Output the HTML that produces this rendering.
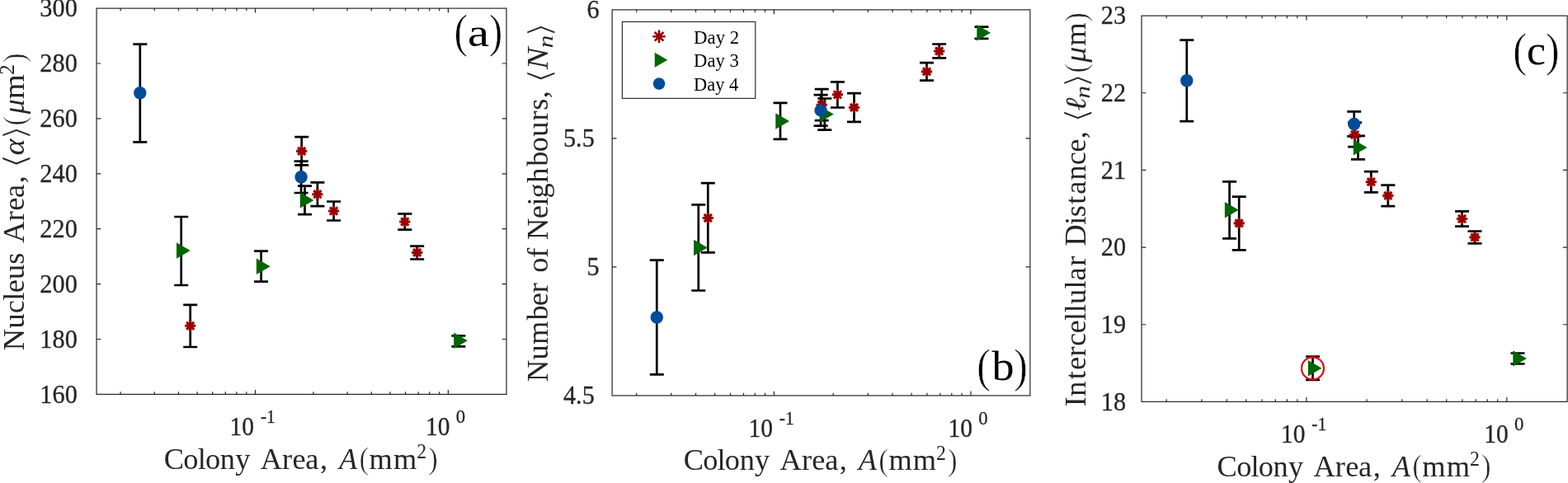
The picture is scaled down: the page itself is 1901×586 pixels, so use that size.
<!DOCTYPE html>
<html lang="en"><head><meta charset="utf-8"><title>Colony area plots</title>
<style>
html,body{margin:0;padding:0;background:#fff;}
body{width:1901px;height:586px;overflow:hidden;}
svg{display:block;font-family:'Liberation Serif','DejaVu Serif',serif;}
</style></head><body>
<svg width="1901" height="586" viewBox="0 0 1901 586">
<rect width="1901" height="586" fill="#fff"/>
<rect x="117.05" y="10.10" width="496.95" height="468.30" fill="none" stroke="#262626" stroke-width="1.2"/>
<path d="M146.07 478.40v-3.2M146.07 10.10v3.2M187.25 478.40v-3.2M187.25 10.10v3.2M216.47 478.40v-3.2M216.47 10.10v3.2M239.13 478.40v-3.2M239.13 10.10v3.2M257.65 478.40v-3.2M257.65 10.10v3.2M273.31 478.40v-3.2M273.31 10.10v3.2M286.87 478.40v-3.2M286.87 10.10v3.2M298.83 478.40v-3.2M298.83 10.10v3.2M309.53 478.40v-5.3M309.53 10.10v5.3M379.93 478.40v-3.2M379.93 10.10v3.2M421.12 478.40v-3.2M421.12 10.10v3.2M450.33 478.40v-3.2M450.33 10.10v3.2M473.00 478.40v-3.2M473.00 10.10v3.2M491.52 478.40v-3.2M491.52 10.10v3.2M507.17 478.40v-3.2M507.17 10.10v3.2M520.74 478.40v-3.2M520.74 10.10v3.2M532.70 478.40v-3.2M532.70 10.10v3.2M543.40 478.40v-5.3M543.40 10.10v5.3M117.05 411.50h5.3M614.00 411.50h-5.3M117.05 344.60h5.3M614.00 344.60h-5.3M117.05 277.70h5.3M614.00 277.70h-5.3M117.05 210.80h5.3M614.00 210.80h-5.3M117.05 143.90h5.3M614.00 143.90h-5.3M117.05 77.00h5.3M614.00 77.00h-5.3" fill="none" stroke="#262626" stroke-width="1.2"/>
<path d="M230.70 369.80V421.00M222.20 369.80h17.0M222.20 421.00h17.0" fill="none" stroke="#000" stroke-width="2.7"/>
<path d="M365.70 166.10V200.30M357.20 166.10h17.0M357.20 200.30h17.0" fill="none" stroke="#000" stroke-width="2.7"/>
<path d="M384.90 221.30V250.20M376.40 221.30h17.0M376.40 250.20h17.0" fill="none" stroke="#000" stroke-width="2.7"/>
<path d="M404.60 244.50V267.50M396.10 244.50h17.0M396.10 267.50h17.0" fill="none" stroke="#000" stroke-width="2.7"/>
<path d="M490.80 259.30V278.60M482.30 259.30h17.0M482.30 278.60h17.0" fill="none" stroke="#000" stroke-width="2.7"/>
<path d="M505.70 298.70V314.50M497.20 298.70h17.0M497.20 314.50h17.0" fill="none" stroke="#000" stroke-width="2.7"/>
<path d="M219.70 263.00V346.00M211.20 263.00h17.0M211.20 346.00h17.0" fill="none" stroke="#000" stroke-width="2.7"/>
<path d="M316.60 304.70V341.70M308.10 304.70h17.0M308.10 341.70h17.0" fill="none" stroke="#000" stroke-width="2.7"/>
<path d="M369.50 225.70V260.10M361.00 225.70h17.0M361.00 260.10h17.0" fill="none" stroke="#000" stroke-width="2.7"/>
<path d="M555.90 407.30V420.30M547.40 407.30h17.0M547.40 420.30h17.0" fill="none" stroke="#000" stroke-width="2.7"/>
<path d="M169.80 53.60V172.40M161.30 53.60h17.0M161.30 172.40h17.0" fill="none" stroke="#000" stroke-width="2.7"/>
<path d="M365.10 195.60V234.00M356.60 195.60h17.0M356.60 234.00h17.0" fill="none" stroke="#000" stroke-width="2.7"/>
<path d="M224.10 395.30L237.30 395.30M226.13 390.73L235.27 399.87M230.70 388.70L230.70 401.90M235.27 390.73L226.13 399.87" fill="none" stroke="#990000" stroke-width="3.1"/>
<path d="M359.10 183.40L372.30 183.40M361.13 178.83L370.27 187.97M365.70 176.80L365.70 190.00M370.27 178.83L361.13 187.97" fill="none" stroke="#990000" stroke-width="3.1"/>
<path d="M378.30 235.70L391.50 235.70M380.33 231.13L389.47 240.27M384.90 229.10L384.90 242.30M389.47 231.13L380.33 240.27" fill="none" stroke="#990000" stroke-width="3.1"/>
<path d="M398.00 256.00L411.20 256.00M400.03 251.43L409.17 260.57M404.60 249.40L404.60 262.60M409.17 251.43L400.03 260.57" fill="none" stroke="#990000" stroke-width="3.1"/>
<path d="M484.20 269.00L497.40 269.00M486.23 264.43L495.37 273.57M490.80 262.40L490.80 275.60M495.37 264.43L486.23 273.57" fill="none" stroke="#990000" stroke-width="3.1"/>
<path d="M499.10 306.40L512.30 306.40M501.13 301.83L510.27 310.97M505.70 299.80L505.70 313.00M510.27 301.83L501.13 310.97" fill="none" stroke="#990000" stroke-width="3.1"/>
<path d="M214.00 294.30L230.70 304.00L214.00 313.70Z" fill="#006600"/>
<path d="M310.90 313.50L327.60 323.20L310.90 332.90Z" fill="#006600"/>
<path d="M363.80 233.20L380.50 242.90L363.80 252.60Z" fill="#006600"/>
<path d="M550.20 403.60L566.90 413.30L550.20 423.00Z" fill="#006600"/>
<circle cx="169.80" cy="112.80" r="7.7" fill="#004c99"/>
<circle cx="365.10" cy="214.80" r="7.7" fill="#004c99"/>
<text transform="translate(48.36 488.60) scale(0.9774 1.0000)" font-size="31.0" stroke="#262626" stroke-width="0.307" fill="#262626">160</text>
<text transform="translate(48.36 421.70) scale(0.9774 1.0000)" font-size="31.0" stroke="#262626" stroke-width="0.307" fill="#262626">180</text>
<text transform="translate(48.36 354.80) scale(0.9774 1.0000)" font-size="31.0" stroke="#262626" stroke-width="0.307" fill="#262626">200</text>
<text transform="translate(48.36 287.90) scale(0.9774 1.0000)" font-size="31.0" stroke="#262626" stroke-width="0.307" fill="#262626">220</text>
<text transform="translate(48.36 221.00) scale(0.9774 1.0000)" font-size="31.0" stroke="#262626" stroke-width="0.307" fill="#262626">240</text>
<text transform="translate(48.36 154.10) scale(0.9774 1.0000)" font-size="31.0" stroke="#262626" stroke-width="0.307" fill="#262626">260</text>
<text transform="translate(48.36 87.20) scale(0.9774 1.0000)" font-size="31.0" stroke="#262626" stroke-width="0.307" fill="#262626">280</text>
<text transform="translate(48.36 20.30) scale(0.9774 1.0000)" font-size="31.0" stroke="#262626" stroke-width="0.307" fill="#262626">300</text>
<text transform="translate(278.55 528.20) scale(0.9512 1.0000)" font-size="31.0" stroke="#262626" stroke-width="0.315" fill="#262626">10</text>
<text transform="translate(315.92 513.30) scale(0.9025 1.0000)" font-size="23.9" stroke="#262626" stroke-width="0.277" fill="#262626">-1</text>
<text transform="translate(515.92 528.20) scale(0.9512 1.0000)" font-size="31.0" stroke="#262626" stroke-width="0.315" fill="#262626">10</text>
<text transform="translate(552.64 513.30) scale(0.9538 1.0000)" font-size="23.9" stroke="#262626" stroke-width="0.262" fill="#262626">0</text>
<text transform="translate(200.20 568.50) scale(1.0400 1.0000)" x="-1.40 21.31 37.96 46.82 64.00 81.72" y="0" font-size="35" fill="#262626">Colony</text>
<text transform="translate(316.00 568.50) scale(1.0400 1.0000)" x="-0.35 25.06 36.97 52.22 69.21" y="0" font-size="35" fill="#262626">Area,</text>
<text transform="translate(411.16 568.50) scale(1.0192 1.0000)" font-size="35" font-style="italic" fill="#262626">A</text>
<text transform="translate(435.44 569.30) scale(0.9206 1.0000)" font-size="38.6" stroke="#fff" stroke-width="0.652" fill="#262626">(</text>
<text transform="translate(448.20 568.50) scale(1.0400 1.0000)" x="-0.70 27.64" y="0" font-size="35" fill="#262626">mm</text>
<text transform="translate(505.19 556.30) scale(0.9684 1.0000)" font-size="24.5" fill="#262626">2</text>
<text transform="translate(518.94 569.30) scale(0.9256 1.0000)" font-size="38.6" stroke="#fff" stroke-width="0.648" fill="#262626">)</text>
<text transform="translate(29.00 424.20) rotate(-90) scale(1.0400 1.0000)" x="-0.96 24.79 42.19 57.21 66.19 82.01 99.59" y="0" font-size="35" fill="#262626">Nucleus</text>
<text transform="translate(29.00 294.30) rotate(-90) scale(1.0400 1.0000)" x="-0.35 25.06 36.97 52.22 69.21" y="0" font-size="35" fill="#262626">Area,</text>
<text transform="translate(32.45 205.01) rotate(-90) scale(1.2786 1.0000)" font-size="38.75" font-family="'DejaVu Sans',serif" stroke="#fff" stroke-width="1.330" fill="#262626">⟨</text>
<text transform="translate(29.00 188.45) rotate(-90) scale(1.0927 1.0000)" font-size="35" font-style="italic" fill="#262626">α</text>
<text transform="translate(32.45 169.90) rotate(-90) scale(1.2082 1.0000)" font-size="38.75" font-family="'DejaVu Sans',serif" stroke="#fff" stroke-width="1.407" fill="#262626">⟩</text>
<text transform="translate(29.80 152.39) rotate(-90) scale(0.9055 1.0000)" font-size="38.6" stroke="#fff" stroke-width="0.663" fill="#262626">(</text>
<text transform="translate(29.00 138.30) rotate(-90) scale(1.0213 1.0000)" font-size="35" font-style="italic" fill="#262626">μ</text>
<text transform="translate(29.00 120.27) rotate(-90) scale(1.1044 1.0000)" font-size="35" fill="#262626">m</text>
<text transform="translate(16.80 90.67) rotate(-90) scale(1.0242 1.0000)" font-size="24.5" fill="#262626">2</text>
<text transform="translate(29.80 76.16) rotate(-90) scale(0.9256 1.0000)" font-size="38.6" stroke="#fff" stroke-width="0.648" fill="#262626">)</text>
<text transform="translate(550.49 57.10) scale(0.8645 1.0000)" font-size="57.5" stroke="#fff" stroke-width="0.694" fill="#000">(</text>
<text transform="translate(566.94 55.60) scale(1.2110 1.0000)" font-size="48.5" fill="#000">a</text>
<text transform="translate(592.78 57.10) scale(0.8645 1.0000)" font-size="57.5" stroke="#fff" stroke-width="0.694" fill="#000">)</text>
<rect x="742.15" y="11.85" width="506.75" height="468.10" fill="none" stroke="#262626" stroke-width="1.2"/>
<path d="M771.75 479.95v-3.2M771.75 11.85v3.2M813.74 479.95v-3.2M813.74 11.85v3.2M843.53 479.95v-3.2M843.53 11.85v3.2M866.64 479.95v-3.2M866.64 11.85v3.2M885.53 479.95v-3.2M885.53 11.85v3.2M901.49 479.95v-3.2M901.49 11.85v3.2M915.32 479.95v-3.2M915.32 11.85v3.2M927.52 479.95v-3.2M927.52 11.85v3.2M938.43 479.95v-5.3M938.43 11.85v5.3M1010.22 479.95v-3.2M1010.22 11.85v3.2M1052.22 479.95v-3.2M1052.22 11.85v3.2M1082.01 479.95v-3.2M1082.01 11.85v3.2M1105.12 479.95v-3.2M1105.12 11.85v3.2M1124.01 479.95v-3.2M1124.01 11.85v3.2M1139.97 479.95v-3.2M1139.97 11.85v3.2M1153.80 479.95v-3.2M1153.80 11.85v3.2M1166.00 479.95v-3.2M1166.00 11.85v3.2M1176.91 479.95v-5.3M1176.91 11.85v5.3M742.15 323.92h5.3M1248.90 323.92h-5.3M742.15 167.88h5.3M1248.90 167.88h-5.3" fill="none" stroke="#262626" stroke-width="1.2"/>
<path d="M858.30 222.20V306.40M849.80 222.20h17.0M849.80 306.40h17.0" fill="none" stroke="#000" stroke-width="2.7"/>
<path d="M996.20 108.10V146.10M987.70 108.10h17.0M987.70 146.10h17.0" fill="none" stroke="#000" stroke-width="2.7"/>
<path d="M1015.40 99.40V130.50M1006.90 99.40h17.0M1006.90 130.50h17.0" fill="none" stroke="#000" stroke-width="2.7"/>
<path d="M1035.50 113.20V147.80M1027.00 113.20h17.0M1027.00 147.80h17.0" fill="none" stroke="#000" stroke-width="2.7"/>
<path d="M1123.50 76.10V97.70M1115.00 76.10h17.0M1115.00 97.70h17.0" fill="none" stroke="#000" stroke-width="2.7"/>
<path d="M1138.70 53.50V70.40M1130.20 53.50h17.0M1130.20 70.40h17.0" fill="none" stroke="#000" stroke-width="2.7"/>
<path d="M846.80 248.30V352.50M838.30 248.30h17.0M838.30 352.50h17.0" fill="none" stroke="#000" stroke-width="2.7"/>
<path d="M946.00 124.90V168.90M937.50 124.90h17.0M937.50 168.90h17.0" fill="none" stroke="#000" stroke-width="2.7"/>
<path d="M999.80 119.50V157.70M991.30 119.50h17.0M991.30 157.70h17.0" fill="none" stroke="#000" stroke-width="2.7"/>
<path d="M1190.00 32.60V46.80M1181.50 32.60h17.0M1181.50 46.80h17.0" fill="none" stroke="#000" stroke-width="2.7"/>
<path d="M796.30 315.70V454.40M787.80 315.70h17.0M787.80 454.40h17.0" fill="none" stroke="#000" stroke-width="2.7"/>
<path d="M995.10 115.10V152.70M986.60 115.10h17.0M986.60 152.70h17.0" fill="none" stroke="#000" stroke-width="2.7"/>
<path d="M851.70 264.50L864.90 264.50M853.73 259.93L862.87 269.07M858.30 257.90L858.30 271.10M862.87 259.93L853.73 269.07" fill="none" stroke="#990000" stroke-width="3.1"/>
<path d="M989.60 127.20L1002.80 127.20M991.63 122.63L1000.77 131.77M996.20 120.60L996.20 133.80M1000.77 122.63L991.63 131.77" fill="none" stroke="#990000" stroke-width="3.1"/>
<path d="M1008.80 114.80L1022.00 114.80M1010.83 110.23L1019.97 119.37M1015.40 108.20L1015.40 121.40M1019.97 110.23L1010.83 119.37" fill="none" stroke="#990000" stroke-width="3.1"/>
<path d="M1028.90 130.40L1042.10 130.40M1030.93 125.83L1040.07 134.97M1035.50 123.80L1035.50 137.00M1040.07 125.83L1030.93 134.97" fill="none" stroke="#990000" stroke-width="3.1"/>
<path d="M1116.90 86.90L1130.10 86.90M1118.93 82.33L1128.07 91.47M1123.50 80.30L1123.50 93.50M1128.07 82.33L1118.93 91.47" fill="none" stroke="#990000" stroke-width="3.1"/>
<path d="M1132.10 62.00L1145.30 62.00M1134.13 57.43L1143.27 66.57M1138.70 55.40L1138.70 68.60M1143.27 57.43L1134.13 66.57" fill="none" stroke="#990000" stroke-width="3.1"/>
<path d="M841.10 290.80L857.80 300.50L841.10 310.20Z" fill="#006600"/>
<path d="M940.30 137.30L957.00 147.00L940.30 156.70Z" fill="#006600"/>
<path d="M994.10 128.90L1010.80 138.60L994.10 148.30Z" fill="#006600"/>
<path d="M1184.30 30.00L1201.00 39.70L1184.30 49.40Z" fill="#006600"/>
<circle cx="796.30" cy="385.00" r="7.7" fill="#004c99"/>
<circle cx="995.10" cy="133.90" r="7.7" fill="#004c99"/>
<text transform="translate(682.98 490.15) scale(0.9774 1.0000)" font-size="31.0" stroke="#262626" stroke-width="0.307" fill="#262626">4.5</text>
<text transform="translate(711.52 334.12) scale(0.9774 1.0000)" font-size="31.0" stroke="#262626" stroke-width="0.307" fill="#262626">5</text>
<text transform="translate(682.98 178.08) scale(0.9774 1.0000)" font-size="31.0" stroke="#262626" stroke-width="0.307" fill="#262626">5.5</text>
<text transform="translate(711.52 22.05) scale(0.9774 1.0000)" font-size="31.0" stroke="#262626" stroke-width="0.307" fill="#262626">6</text>
<text transform="translate(907.45 529.75) scale(0.9512 1.0000)" font-size="31.0" stroke="#262626" stroke-width="0.315" fill="#262626">10</text>
<text transform="translate(944.82 514.85) scale(0.9025 1.0000)" font-size="23.9" stroke="#262626" stroke-width="0.277" fill="#262626">-1</text>
<text transform="translate(1149.43 529.75) scale(0.9512 1.0000)" font-size="31.0" stroke="#262626" stroke-width="0.315" fill="#262626">10</text>
<text transform="translate(1186.16 514.85) scale(0.9538 1.0000)" font-size="23.9" stroke="#262626" stroke-width="0.262" fill="#262626">0</text>
<text transform="translate(830.10 570.05) scale(1.0400 1.0000)" x="-1.40 21.31 37.96 46.82 64.00 81.72" y="0" font-size="35" fill="#262626">Colony</text>
<text transform="translate(945.90 570.05) scale(1.0400 1.0000)" x="-0.35 25.06 36.97 52.22 69.21" y="0" font-size="35" fill="#262626">Area,</text>
<text transform="translate(1041.06 570.05) scale(1.0192 1.0000)" font-size="35" font-style="italic" fill="#262626">A</text>
<text transform="translate(1065.34 570.85) scale(0.9206 1.0000)" font-size="38.6" stroke="#fff" stroke-width="0.652" fill="#262626">(</text>
<text transform="translate(1078.10 570.05) scale(1.0400 1.0000)" x="-0.70 27.64" y="0" font-size="35" fill="#262626">mm</text>
<text transform="translate(1135.09 557.85) scale(0.9684 1.0000)" font-size="24.5" fill="#262626">2</text>
<text transform="translate(1148.84 570.85) scale(0.9256 1.0000)" font-size="38.6" stroke="#fff" stroke-width="0.648" fill="#262626">)</text>
<text transform="translate(664.40 462.10) rotate(-90) scale(1.0400 1.0000)" x="-0.96 24.53 42.29 70.67 87.30 102.86" y="0" font-size="35" fill="#262626">Number</text>
<text transform="translate(664.40 329.50) rotate(-90) scale(1.0400 1.0000)" x="-1.31 16.05" y="0" font-size="35" fill="#262626">of</text>
<text transform="translate(664.40 289.90) rotate(-90) scale(1.0400 1.0000)" x="-0.96 23.81 38.83 47.55 65.59 84.73 101.68 119.37 137.79 150.07 164.21" y="0" font-size="35" fill="#262626">Neighbours,</text>
<text transform="translate(667.85 101.59) rotate(-90) scale(1.2434 1.0000)" font-size="38.75" font-family="'DejaVu Sans',serif" stroke="#fff" stroke-width="1.367" fill="#262626">⟨</text>
<text transform="translate(664.40 84.20) rotate(-90) scale(1.1468 1.0000)" font-size="35" font-style="italic" fill="#262626">N</text>
<text transform="translate(670.00 58.42) rotate(-90) scale(1.2781 1.0000)" font-size="25" font-style="italic" fill="#262626">n</text>
<text transform="translate(667.85 45.54) rotate(-90) scale(1.2551 1.0000)" font-size="38.75" font-family="'DejaVu Sans',serif" stroke="#fff" stroke-width="1.354" fill="#262626">⟩</text>
<text transform="translate(1184.29 462.60) scale(0.8645 1.0000)" font-size="57.5" stroke="#fff" stroke-width="0.694" fill="#000">(</text>
<text transform="translate(1202.50 460.80) scale(1.0811 1.0000)" font-size="50" fill="#000">b</text>
<text transform="translate(1229.18 462.60) scale(0.8645 1.0000)" font-size="57.5" stroke="#fff" stroke-width="0.694" fill="#000">)</text>
<rect x="754.4" y="26.45" width="161.4" height="92.9" fill="#fff" stroke="#262626" stroke-width="1.15"/>
<path d="M791.35 44.30L806.75 44.30M793.71 38.96L804.39 49.64M799.05 36.60L799.05 52.00M804.39 38.96L793.71 49.64" fill="none" stroke="#990000" stroke-width="2.6"/>
<text transform="translate(841.07 53.05) scale(1.0247 1.0000)" font-size="22.3" fill="#000">Day 2</text>
<path d="M793.75 63.83L809.28 72.85L793.75 81.87Z" fill="#006600"/>
<text transform="translate(841.08 80.85) scale(1.0182 1.0000)" font-size="22.3" fill="#000">Day 3</text>
<circle cx="799.05" cy="101.60" r="7.3" fill="#004c99"/>
<text transform="translate(841.08 109.75) scale(1.0074 1.0000)" font-size="22.3" fill="#000">Day 4</text>
<rect x="1384.05" y="19.10" width="516.05" height="468.30" fill="none" stroke="#262626" stroke-width="1.2"/>
<path d="M1414.19 487.40v-3.2M1414.19 19.10v3.2M1456.96 487.40v-3.2M1456.96 19.10v3.2M1487.30 487.40v-3.2M1487.30 19.10v3.2M1510.83 487.40v-3.2M1510.83 19.10v3.2M1530.06 487.40v-3.2M1530.06 19.10v3.2M1546.32 487.40v-3.2M1546.32 19.10v3.2M1560.40 487.40v-3.2M1560.40 19.10v3.2M1572.83 487.40v-3.2M1572.83 19.10v3.2M1583.94 487.40v-5.3M1583.94 19.10v5.3M1657.05 487.40v-3.2M1657.05 19.10v3.2M1699.81 487.40v-3.2M1699.81 19.10v3.2M1730.15 487.40v-3.2M1730.15 19.10v3.2M1753.69 487.40v-3.2M1753.69 19.10v3.2M1772.92 487.40v-3.2M1772.92 19.10v3.2M1789.18 487.40v-3.2M1789.18 19.10v3.2M1803.26 487.40v-3.2M1803.26 19.10v3.2M1815.68 487.40v-3.2M1815.68 19.10v3.2M1826.79 487.40v-5.3M1826.79 19.10v5.3M1384.05 393.74h5.3M1900.10 393.74h-5.3M1384.05 300.08h5.3M1900.10 300.08h-5.3M1384.05 206.42h5.3M1900.10 206.42h-5.3M1384.05 112.76h5.3M1900.10 112.76h-5.3" fill="none" stroke="#262626" stroke-width="1.2"/>
<path d="M1502.20 238.60V303.40M1493.70 238.60h17.0M1493.70 303.40h17.0" fill="none" stroke="#000" stroke-width="2.7"/>
<path d="M1642.50 148.70V178.10M1634.00 148.70h17.0M1634.00 178.10h17.0" fill="none" stroke="#000" stroke-width="2.7"/>
<path d="M1662.30 208.10V233.40M1653.80 208.10h17.0M1653.80 233.40h17.0" fill="none" stroke="#000" stroke-width="2.7"/>
<path d="M1682.80 224.60V250.10M1674.30 224.60h17.0M1674.30 250.10h17.0" fill="none" stroke="#000" stroke-width="2.7"/>
<path d="M1772.50 256.30V274.60M1764.00 256.30h17.0M1764.00 274.60h17.0" fill="none" stroke="#000" stroke-width="2.7"/>
<path d="M1788.00 280.50V295.40M1779.50 280.50h17.0M1779.50 295.40h17.0" fill="none" stroke="#000" stroke-width="2.7"/>
<path d="M1490.60 220.40V289.30M1482.10 220.40h17.0M1482.10 289.30h17.0" fill="none" stroke="#000" stroke-width="2.7"/>
<path d="M1591.50 432.50V460.90M1583.00 432.50h17.0M1583.00 460.90h17.0" fill="none" stroke="#000" stroke-width="2.7"/>
<path d="M1646.50 164.90V193.40M1638.00 164.90h17.0M1638.00 193.40h17.0" fill="none" stroke="#000" stroke-width="2.7"/>
<path d="M1840.00 428.50V441.30M1831.50 428.50h17.0M1831.50 441.30h17.0" fill="none" stroke="#000" stroke-width="2.7"/>
<path d="M1438.80 48.60V147.20M1430.30 48.60h17.0M1430.30 147.20h17.0" fill="none" stroke="#000" stroke-width="2.7"/>
<path d="M1641.70 135.30V165.30M1633.20 135.30h17.0M1633.20 165.30h17.0" fill="none" stroke="#000" stroke-width="2.7"/>
<circle cx="1591.5" cy="446.9" r="13.5" fill="none" stroke="#e60000" stroke-width="2.1"/>
<path d="M1495.60 270.90L1508.80 270.90M1497.63 266.33L1506.77 275.47M1502.20 264.30L1502.20 277.50M1506.77 266.33L1497.63 275.47" fill="none" stroke="#990000" stroke-width="3.1"/>
<path d="M1635.90 163.50L1649.10 163.50M1637.93 158.93L1647.07 168.07M1642.50 156.90L1642.50 170.10M1647.07 158.93L1637.93 168.07" fill="none" stroke="#990000" stroke-width="3.1"/>
<path d="M1655.70 220.70L1668.90 220.70M1657.73 216.13L1666.87 225.27M1662.30 214.10L1662.30 227.30M1666.87 216.13L1657.73 225.27" fill="none" stroke="#990000" stroke-width="3.1"/>
<path d="M1676.20 237.40L1689.40 237.40M1678.23 232.83L1687.37 241.97M1682.80 230.80L1682.80 244.00M1687.37 232.83L1678.23 241.97" fill="none" stroke="#990000" stroke-width="3.1"/>
<path d="M1765.90 265.50L1779.10 265.50M1767.93 260.93L1777.07 270.07M1772.50 258.90L1772.50 272.10M1777.07 260.93L1767.93 270.07" fill="none" stroke="#990000" stroke-width="3.1"/>
<path d="M1781.40 287.90L1794.60 287.90M1783.43 283.33L1792.57 292.47M1788.00 281.30L1788.00 294.50M1792.57 283.33L1783.43 292.47" fill="none" stroke="#990000" stroke-width="3.1"/>
<path d="M1484.90 245.00L1501.60 254.70L1484.90 264.40Z" fill="#006600"/>
<path d="M1585.80 437.10L1602.50 446.80L1585.80 456.50Z" fill="#006600"/>
<path d="M1640.80 169.20L1657.50 178.90L1640.80 188.60Z" fill="#006600"/>
<path d="M1834.30 425.20L1851.00 434.90L1834.30 444.60Z" fill="#006600"/>
<circle cx="1438.80" cy="97.70" r="7.7" fill="#004c99"/>
<circle cx="1641.70" cy="150.50" r="7.7" fill="#004c99"/>
<text transform="translate(1334.79 497.60) scale(0.9774 1.0000)" font-size="31.0" stroke="#262626" stroke-width="0.307" fill="#262626">18</text>
<text transform="translate(1334.79 403.94) scale(0.9774 1.0000)" font-size="31.0" stroke="#262626" stroke-width="0.307" fill="#262626">19</text>
<text transform="translate(1334.79 310.28) scale(0.9774 1.0000)" font-size="31.0" stroke="#262626" stroke-width="0.307" fill="#262626">20</text>
<text transform="translate(1334.79 216.62) scale(0.9774 1.0000)" font-size="31.0" stroke="#262626" stroke-width="0.307" fill="#262626">21</text>
<text transform="translate(1334.79 122.96) scale(0.9774 1.0000)" font-size="31.0" stroke="#262626" stroke-width="0.307" fill="#262626">22</text>
<text transform="translate(1334.79 29.30) scale(0.9774 1.0000)" font-size="31.0" stroke="#262626" stroke-width="0.307" fill="#262626">23</text>
<text transform="translate(1552.96 537.20) scale(0.9512 1.0000)" font-size="31.0" stroke="#262626" stroke-width="0.315" fill="#262626">10</text>
<text transform="translate(1590.33 522.30) scale(0.9025 1.0000)" font-size="23.9" stroke="#262626" stroke-width="0.277" fill="#262626">-1</text>
<text transform="translate(1799.31 537.20) scale(0.9512 1.0000)" font-size="31.0" stroke="#262626" stroke-width="0.315" fill="#262626">10</text>
<text transform="translate(1836.04 522.30) scale(0.9538 1.0000)" font-size="23.9" stroke="#262626" stroke-width="0.262" fill="#262626">0</text>
<text transform="translate(1477.00 577.50) scale(1.0400 1.0000)" x="-1.40 21.31 37.96 46.82 64.00 81.72" y="0" font-size="35" fill="#262626">Colony</text>
<text transform="translate(1592.80 577.50) scale(1.0400 1.0000)" x="-0.35 25.06 36.97 52.22 69.21" y="0" font-size="35" fill="#262626">Area,</text>
<text transform="translate(1687.96 577.50) scale(1.0192 1.0000)" font-size="35" font-style="italic" fill="#262626">A</text>
<text transform="translate(1712.24 578.30) scale(0.9206 1.0000)" font-size="38.6" stroke="#fff" stroke-width="0.652" fill="#262626">(</text>
<text transform="translate(1725.00 577.50) scale(1.0400 1.0000)" x="-0.70 27.64" y="0" font-size="35" fill="#262626">mm</text>
<text transform="translate(1781.99 565.30) scale(0.9684 1.0000)" font-size="24.5" fill="#262626">2</text>
<text transform="translate(1795.74 578.30) scale(0.9256 1.0000)" font-size="38.6" stroke="#fff" stroke-width="0.648" fill="#262626">)</text>
<text transform="translate(1315.80 492.10) rotate(-90) scale(1.0400 1.0000)" x="-1.23 10.96 30.62 41.55 57.30 69.37 84.16 99.19 108.43 118.49 136.16 145.82 162.76" y="0" font-size="35" fill="#262626">Intercellular</text>
<text transform="translate(1315.80 297.60) rotate(-90) scale(1.0400 1.0000)" x="-0.96 23.81 32.97 47.87 59.39 76.13 93.69 108.41 124.30" y="0" font-size="35" fill="#262626">Distance,</text>
<text transform="translate(1319.25 149.56) rotate(-90) scale(1.2493 1.0000)" font-size="38.75" font-family="'DejaVu Sans',serif" stroke="#fff" stroke-width="1.361" fill="#262626">⟨</text>
<text transform="translate(1315.80 134.58) rotate(-90) scale(1.1137 1.0000)" font-size="35" font-style="italic" fill="#262626">ℓ</text>
<text transform="translate(1321.40 119.86) rotate(-90) scale(1.2639 1.0000)" font-size="25" font-style="italic" fill="#262626">n</text>
<text transform="translate(1319.25 107.07) rotate(-90) scale(1.2493 1.0000)" font-size="38.75" font-family="'DejaVu Sans',serif" stroke="#fff" stroke-width="1.361" fill="#262626">⟩</text>
<text transform="translate(1316.60 88.49) rotate(-90) scale(0.9055 1.0000)" font-size="38.6" stroke="#fff" stroke-width="0.663" fill="#262626">(</text>
<text transform="translate(1315.80 75.75) rotate(-90) scale(1.0790 1.0000)" font-size="35" font-style="italic" fill="#262626">μ</text>
<text transform="translate(1315.80 55.78) rotate(-90) scale(1.0447 1.0000)" font-size="35" fill="#262626">m</text>
<text transform="translate(1316.60 27.06) rotate(-90) scale(0.9256 1.0000)" font-size="38.6" stroke="#fff" stroke-width="0.648" fill="#262626">)</text>
<text transform="translate(1834.37 79.50) scale(0.8713 1.0000)" font-size="57.5" stroke="#fff" stroke-width="0.689" fill="#000">(</text>
<text transform="translate(1850.96 78.20) scale(1.0347 1.0000)" font-size="50" fill="#000">c</text>
<text transform="translate(1873.98 79.50) scale(0.8645 1.0000)" font-size="57.5" stroke="#fff" stroke-width="0.694" fill="#000">)</text>
</svg>
</body></html>
